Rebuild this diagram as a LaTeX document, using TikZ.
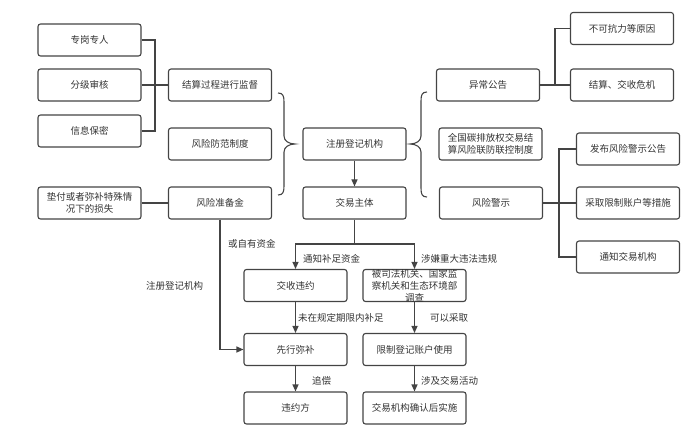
\documentclass[tikz,border=0pt]{standalone}
\usepackage{fontspec}
\newfontfamily\cjk{Noto Sans CJK SC}
\usetikzlibrary{arrows.meta}
\definecolor{ln}{HTML}{444444}
\definecolor{tx}{HTML}{333333}
\tikzset{
  box/.style={draw=ln, rounded corners=2.5pt, line width=1.1pt, minimum width=103pt, minimum height=32pt,
    font=\cjk\fontsize{9.5}{12}\selectfont, text=tx, align=center, inner sep=1pt},
  lbl/.style={font=\cjk\fontsize{9.5}{12}\selectfont, text=tx, inner sep=0pt, anchor=west},
  conn/.style={draw=ln, line width=1.1pt},
  arr/.style={conn, -{Triangle[length=7pt,width=6pt]}},
}
\begin{document}
\begin{tikzpicture}[x=1pt,y=-1pt]
\useasboundingbox (0,0) rectangle (700,443);
% left column
\node[box] (a1) at (89.5,40) {专岗专人};
\node[box] (a2) at (89.5,85) {分级审核};
\node[box] (a3) at (89.5,131) {信息保密};
\node[box] (a4) at (89.5,203) {垫付或者弥补特殊情\\况下的损失};
\node[box] (b1) at (220,85) {结算过程进行监督};
\node[box] (b2) at (220,144) {风险防范制度};
\node[box] (b3) at (220,203) {风险准备金};
% center
\node[box] (c1) at (354.5,144) {注册登记机构};
\node[box] (c2) at (354.5,203) {交易主体};
% right
\node[box] (d1) at (488,85) {异常公告};
\node[box] (d2) at (490.5,144) {全国碳排放权交易结\\算风险联防联控制度};
\node[box] (d3) at (491,203) {风险警示};
\node[box] (e1) at (622,28.5) {不可抗力等原因};
\node[box] (e2) at (622,85) {结算、交收危机};
\node[box] (f1) at (628,149) {发布风险警示公告};
\node[box] (f2) at (628,203) {采取限制账户等措施};
\node[box] (f3) at (628,257) {通知交易机构};
% lower
\node[box] (g1) at (295.5,285.5) {交收违约};
\node[box] (g2) at (414.5,285.5) {};
\node[font=\cjk\fontsize{9.5}{12}\selectfont, text=tx, align=center, inner sep=0pt] (g2t) at (414.5,285.5) {被司法机关、国家监\\察机关和生态环境部\\调查};
\node[box] (h1) at (295.5,349.5) {先行弥补};
\node[box] (h2) at (414.5,349.5) {限制登记账户使用};
\node[box] (i1) at (295.5,408) {违约方};
\node[box] (i2) at (414.5,408) {交易机构确认后实施};
% left tree
\coordinate (j1) at (155,85);
\draw[conn] (a1.east) -| (j1);
\draw[conn] (a3.east) -| (j1);
\draw[conn] (a2.east) -- (b1.west);
\draw[conn] (a4.east) -- (b3.west);
% right trees
\coordinate (j2) at (555,85);
\draw[conn] (d1.east) -- (e2.west);
\draw[conn] (e1.west) -| (j2);
\coordinate (j3) at (559,203);
\draw[conn] (d3.east) -- (f2.west);
\draw[conn] (f1.west) -| (j3);
\draw[conn] (f3.west) -| (j3);
% braces
\draw[conn] (278,93) .. controls (283,93) and (284,96) .. (284,102) -- (284,136) .. controls (284,141) and (289,144) .. (295,144) .. controls (289,144) and (284,147) .. (284,152) -- (284,186) .. controls (284,192) and (283,195) .. (278,195);
\draw[conn] (427,92) .. controls (422,92) and (421,95) .. (421,101) -- (421,136) .. controls (421,141) and (416,144) .. (410,144) .. controls (416,144) and (421,147) .. (421,152) -- (421,188) .. controls (421,194) and (422,197) .. (427,197);
% center arrows
\draw[arr] (c1.south) -- (c2.north);
\coordinate (k) at (354.5,244);
\draw[conn] (c2.south) -- (k);
\draw[arr] (k) -| (g1.north);
\draw[arr] (k) -| (g2.north);
\draw[arr] (g1.south) -- (h1.north);
\draw[arr] (g2.south) -- (h2.north);
\draw[arr] (h1.south) -- (i1.north);
\draw[arr] (h2.south) -- (i2.north);
\draw[arr] (b3.south) |- (h1.west);
% labels
\node[lbl] (l1) at (303,259) {通知补足资金};
\node[lbl] (l2) at (421,259) {涉嫌重大违法违规};
\node[lbl] (l3) at (298,318) {未在规定期限内补足};
\node[lbl] (l4) at (430,318) {可以采取};
\node[lbl] (l5) at (312,381) {追偿};
\node[lbl] (l6) at (421,381) {涉及交易活动};
\node[lbl] (l7) at (228,244) {或自有资金};
\node[lbl] (l8) at (146,286) {注册登记机构};
\end{tikzpicture}
\end{document}
